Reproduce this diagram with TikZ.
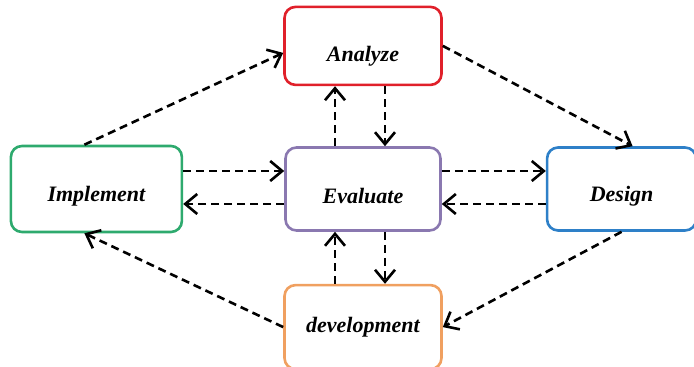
\documentclass[tikz,border=0pt]{standalone}
\usepackage{fontspec}
\setmainfont{Liberation Serif}
\usetikzlibrary{positioning, arrows.meta, calc}

\definecolor{anared}{HTML}{E0202A}
\definecolor{impgreen}{HTML}{2EAA6E}
\definecolor{evalpurple}{HTML}{8A78B0}
\definecolor{desblue}{HTML}{2E80C8}
\definecolor{devorange}{HTML}{F0A060}

\newcommand{\lowered}[2][-7pt]{\raisebox{#1}[\height][\depth]{#2}}

\tikzset{
    stage/.style={draw, rectangle, rounded corners=11pt, line width=2.6pt, fill=white,
        minimum width=157pt, minimum height=82pt, font=\fontsize{22}{26}\selectfont\bfseries\itshape},
    flow/.style={-{Straight Barb[length=12pt, width=20pt, line width=2.6pt]}, line width=2.6pt,
        dash pattern=on 8pt off 5pt}
}

\begin{document}
\begin{tikzpicture}[x=1pt, y=1pt]

        \useasboundingbox (0,0) rectangle (694,367);

        \node[stage, draw=evalpurple, minimum width=155pt, minimum height=83pt] (E) at (363,178) {\lowered{Evaluate}};
        \node[stage, draw=anared, minimum height=78pt, above=60pt of E] (A) {\lowered[-10pt]{Analyze}};
        \node[stage, draw=devorange, minimum height=84pt, below=52pt of E] (D) {\lowered[0pt]{development}};
        \node[stage, draw=impgreen, minimum width=171pt, minimum height=86pt, left=101pt of E] (I) {\lowered{Implement}};
        \node[stage, draw=desblue, minimum width=149pt, minimum height=83pt, right=104pt of E] (G) {\lowered{Design}};

        % outer cycle
        \draw[flow] ([xshift=-12pt]I.north) -- ([yshift=-7pt]A.west);
        \draw[flow] (A.east) -- ([xshift=11pt]G.north);
        \draw[flow] (G.south) -- (D.east);
        \draw[flow] (D.west) -- ([xshift=-12pt]I.south);

        % to and from Evaluate
        \draw[flow] ([xshift=-28pt]E.north) -- ([xshift=-28pt]E.north |- A.south);
        \draw[flow] ([xshift=22pt]E.north |- A.south) -- ([xshift=22pt]E.north);
        \draw[flow] ([xshift=-28pt]E.south |- D.north) -- ([xshift=-28pt]E.south);
        \draw[flow] ([xshift=22pt]E.south) -- ([xshift=22pt]E.south |- D.north);
        \draw[flow] ([yshift=18pt]E.west -| I.east) -- ([yshift=18pt]E.west);
        \draw[flow] ([yshift=-15pt]E.west) -- ([yshift=-15pt]E.west -| I.east);
        \draw[flow] ([yshift=18pt]E.east) -- ([yshift=18pt]E.east -| G.west);
        \draw[flow] ([yshift=-15pt]E.east -| G.west) -- ([yshift=-15pt]E.east);

    \end{tikzpicture}
\end{document}
